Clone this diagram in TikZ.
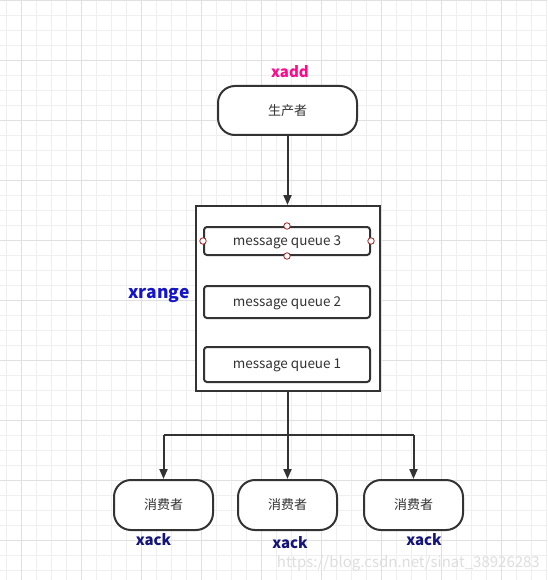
\documentclass[tikz,border=0pt]{standalone}
\usepackage{fontspec}
\setmainfont{Noto Sans CJK SC}
\usetikzlibrary{arrows.meta}
\definecolor{gridminor}{HTML}{EFEFEF}
\definecolor{gridmajor}{HTML}{E0E0E0}
\definecolor{ink}{HTML}{333333}
\definecolor{pinklbl}{HTML}{FF0A8C}
\definecolor{bluelbl}{HTML}{1414C8}
\definecolor{navylbl}{HTML}{14147A}
\definecolor{handle}{HTML}{A02020}
\tikzset{
  term/.style={draw=ink, line width=2pt, fill=white, rounded corners=17pt, minimum width=99pt, minimum height=50pt, font=\fontsize{13}{15}\selectfont, text=ink, inner sep=0pt},
  queue/.style={draw=ink, line width=2pt, fill=white, rounded corners=3pt, minimum width=166pt, font=\fontsize{13.5}{15}\selectfont, text=ink, inner sep=0pt, text height=8.7pt, text depth=0pt},
  frame/.style={draw=ink, line width=2pt, fill=white, inner sep=0pt},
  conn/.style={draw=ink, line width=2pt, -{Triangle[length=10pt,width=8pt]}},
  plain/.style={draw=ink, line width=2pt},
  lbl/.style={font=\bfseries\fontsize{15}{17}\selectfont, inner sep=0pt},
  hnd/.style={circle, draw=handle, fill=white, line width=0.8pt, minimum size=6.5pt, inner sep=0pt}
}
\begin{document}
\begin{tikzpicture}[x=1pt,y=-1pt]
\useasboundingbox (0,0) rectangle (547,580);
\fill[white] (0,0) rectangle (547,580);
% grid
\foreach \i in {0,...,36} {
  \draw[gridminor, line width=0.8pt] ({6.7+15*\i},0) -- ({6.7+15*\i},580);
}
\foreach \j in {0,...,38} {
  \draw[gridminor, line width=0.8pt] (0,{15*\j}) -- (547,{15*\j});
}
\foreach \i in {0,...,9} {
  \draw[gridmajor, line width=0.8pt] ({21.7+60*\i},0) -- ({21.7+60*\i},580);
}
\foreach \j in {0,...,9} {
  \draw[gridmajor, line width=0.8pt] (0,{60*\j}) -- (547,{60*\j});
}
% producer
\node[lbl, text=pinklbl] (xadd) at (290,72) {xadd};
\node[term, minimum width=139pt, minimum height=49pt] (prod) at (287.5,110.5) {生产者};
% container
\node[frame, minimum width=184pt, minimum height=185pt] (box) at (288,298.5) {};
\node[queue, minimum height=28pt] (q3) at (287,241) {message queue 3};
\node[queue, minimum height=32pt] (q2) at (287,302) {message queue 2};
\node[queue, minimum height=35pt] (q1) at (287,364.5) {message queue 1};
\node[hnd] (h1) at (q3.north) {};
\node[hnd] (h2) at (q3.south) {};
\node[hnd] (h3) at (q3.west) {};
\node[hnd] (h4) at (q3.east) {};
\node[lbl, text=bluelbl, font=\bfseries\fontsize{17.5}{19}\selectfont] (xrange) at (159,295) {xrange};
% consumers
\node[term] (c1) at (163.5,505) {消费者};
\node[term] (c2) at (287.5,505) {消费者};
\node[term] (c3) at (413.5,505) {消费者};
\node[lbl, text=navylbl] (x1) at (153.5,540) {xack};
\node[lbl, text=navylbl] (x2) at (290,543) {xack};
\node[lbl, text=navylbl] (x3) at (424,540) {xack};
% connectors
\coordinate (split) at (287.5,435);
\coordinate (lft) at (163.5,435);
\coordinate (rgt) at (413.5,435);
\draw[conn] (prod.south) -- (box.north -| prod.south);
\draw[plain] (box.south -| split) -- (split);
\draw[plain] (lft) -- (rgt);
\draw[conn] (split) -- (c2.north);
\draw[conn] (lft) -- (c1.north);
\draw[conn] (rgt) -- (c3.north);
% watermark
\node[text=black!13, font=\fontsize{15}{17}\selectfont, anchor=east, inner sep=0pt] (wm) at (540,563) {https://blog.csdn.net/sinat\_38926283};
\end{tikzpicture}
\end{document}
